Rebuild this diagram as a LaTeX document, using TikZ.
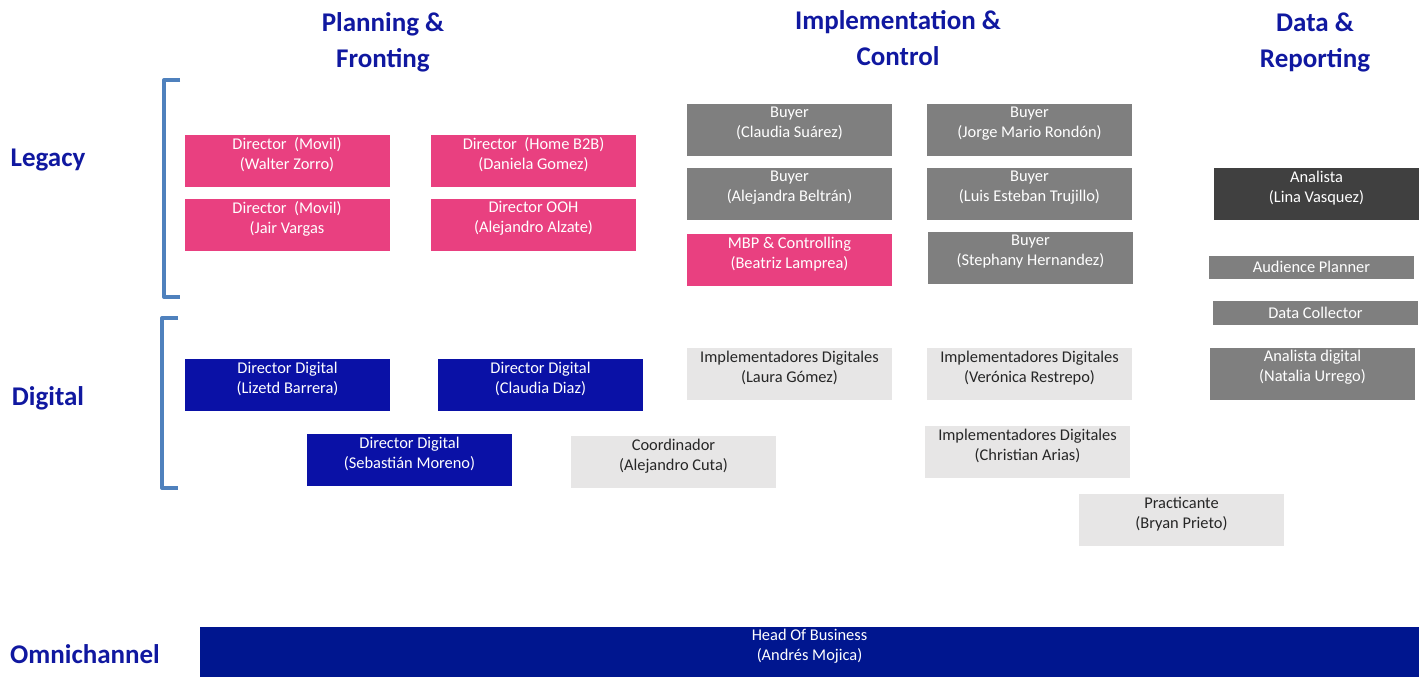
\documentclass[tikz,border=0pt]{standalone}
\usepackage{fontspec}
\setmainfont{Carlito}
\definecolor{rosa}{RGB}{233,64,128}
\definecolor{gris}{RGB}{127,127,127}
\definecolor{oscuro}{RGB}{64,64,64}
\definecolor{claro}{RGB}{231,230,230}
\definecolor{azul}{RGB}{10,17,166}
\definecolor{marino}{RGB}{0,22,143}
\definecolor{titulo}{RGB}{16,24,160}
\definecolor{corchete}{RGB}{79,129,189}
\begin{document}
\begin{tikzpicture}[x=0.5pt,y=-0.5pt,line join=round,font=\fontsize{8.2}{10}\selectfont,
	box/.style={minimum width=102.5pt,minimum height=26pt,inner sep=0pt,align=center,text=white,
		execute at end node={\rule[-7.5pt]{0pt}{7.5pt}}},
	rosabox/.style={box,fill=rosa},
	grisbox/.style={box,fill=gris},
	oscurobox/.style={box,fill=oscuro},
	clarobox/.style={box,fill=claro,text=black!85},
	azulbox/.style={box,fill=azul},
	tira/.style={minimum width=102.5pt,inner sep=0pt,text=white,fill=gris},
	titulo/.style={font=\fontsize{13.5}{18}\selectfont\bfseries,text=titulo,align=center},
	corchete/.style={draw=corchete,line width=2pt}]
	\useasboundingbox (0,0) rectangle (1425,677);
	% titulos
	\node[titulo] (pf) at (383,42) {Planning \&\\Fronting};
	\node[titulo] (ic) at (898,38) {Implementation \&\\Control};
	\node[titulo] (dr) at (1315,42) {Data \&\\Reporting};
	\node[titulo] (legacy) at (48,160) {Legacy};
	\node[titulo] (digital) at (48,398) {Digital};
	\node[titulo] (omni) at (85,654) {Omnichannel};
	% corchetes
	\path (180,80) coordinate (L1) (164,80) coordinate (L2)
		(164,297) coordinate (L3) (180,297) coordinate (L4)
		(178,318) coordinate (D1) (162,318) coordinate (D2)
		(162,488) coordinate (D3) (178,488) coordinate (D4);
	\draw[corchete] (L1)--(L2)--(L3)--(L4) (D1)--(D2)--(D3)--(D4);
	% cajas
	\foreach \n/\x/\y/\s/\t in {
		wz/287/160.5/rosabox/{Director\ \ (Movil)\\(Walter Zorro)},
		dg/533.5/160.5/rosabox/{Director\ \ (Home B2B)\\(Daniela Gomez)},
		jv/287/224.5/rosabox/{Director\ \ (Movil)\\(Jair Vargas},
		aa/533.5/224.5/rosabox/{Director OOH\\(Alejandro Alzate)},
		mbp/789.5/260/rosabox/{MBP \& Controlling\\(Beatriz Lamprea)},
		cs/789.5/129.5/grisbox/{Buyer\\(Claudia Suárez)},
		jm/1029.5/129.5/grisbox/{Buyer\\(Jorge Mario Rondón)},
		ab/789.5/194/grisbox/{Buyer\\(Alejandra Beltrán)},
		le/1029.5/194/grisbox/{Buyer\\(Luis Esteban Trujillo)},
		sh/1030.5/258/grisbox/{Buyer\\(Stephany Hernandez)},
		nu/1312.5/373.5/grisbox/{Analista digital\\(Natalia Urrego)},
		lv/1316.5/194/oscurobox/{Analista\\(Lina Vasquez)},
		lg/789.5/374/clarobox/{Implementadores Digitales\\(Laura Gómez)},
		vr/1029.5/374/clarobox/{Implementadores Digitales\\(Verónica Restrepo)},
		ca/1027.5/452/clarobox/{Implementadores Digitales\\(Christian Arias)},
		bp/1181.5/520/clarobox/{Practicante\\(Bryan Prieto)},
		ac/673.5/462/clarobox/{Coordinador\\(Alejandro Cuta)},
		lb/287.5/385/azulbox/{Director Digital\\(Lizetd Barrera)},
		cd/540.5/385/azulbox/{Director Digital\\(Claudia Diaz)},
		sm/409.5/460/azulbox/{Director Digital\\(Sebastián Moreno)}}
		\node[\s] (\n) at (\x,\y) {\t};
	\node[tira,minimum height=11.5pt] (ap) at (1311.5,267) {Audience Planner};
	\node[tira,minimum height=12pt] (dc) at (1315.5,312.5) {Data Collector};
	\node[box,fill=marino,minimum width=609.5pt,minimum height=25pt] (hob) at (809.5,652) {Head Of Business\\(Andrés Mojica)};
\end{tikzpicture}
\end{document}
